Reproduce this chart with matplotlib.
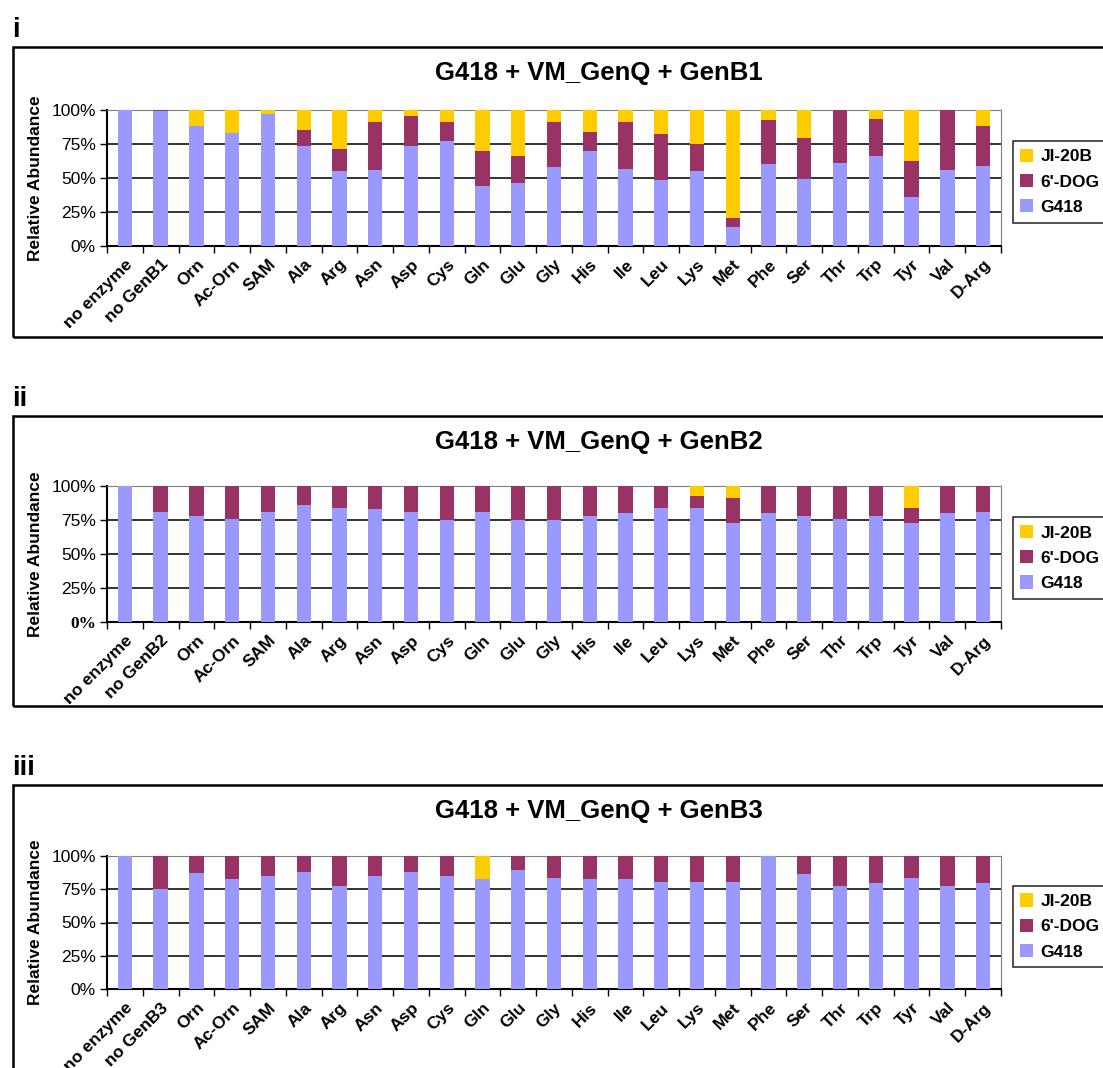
import matplotlib.pyplot as plt
from matplotlib.patches import Rectangle
import numpy as np

plt.rcParams['font.family'] = ['Liberation Sans', 'DejaVu Sans']

amino = ['Orn', 'Ac-Orn', 'SAM', 'Ala', 'Arg', 'Asn', 'Asp', 'Cys', 'Gln', 'Glu',
         'Gly', 'His', 'Ile', 'Leu', 'Lys', 'Met', 'Phe', 'Ser', 'Thr', 'Trp',
         'Tyr', 'Val', 'D-Arg']

# relative abundance (%), stacked G418 / 6'-DOG / JI-20B
g418_b1 = [100, 99, 88.4, 83.2, 97, 73.6, 54.8, 55.8, 73.6, 76.8, 44, 46.2, 58,
           69.6, 56.8, 48.6, 54.8, 13.6, 60, 49.4, 61.2, 66.2, 35.8, 55.8, 58.8]
dog_b1 = [0, 1, 0, 0, 0, 11.6, 16.6, 35.6, 22.2, 14.6, 25.4, 20, 33.4,
          14.4, 34.6, 33.6, 19.8, 6.6, 32.6, 29.6, 38.8, 27.4, 26.4, 44.2, 29.6]

g418_b2 = [100, 80.9, 77.7, 75.5, 80.9, 86, 84, 82.8, 80.9, 74.6, 80.9, 74.6, 74.6,
           77.7, 79.9, 84, 84, 72.6, 79.9, 77.7, 75.5, 77.7, 72.6, 79.9, 80.9]
dog_b2 = [0, 19.1, 22.3, 24.5, 19.1, 14, 16, 17.2, 19.1, 25.4, 19.1, 25.4, 25.4,
          22.3, 20.1, 16, 8.4, 18.7, 20.1, 22.3, 24.5, 22.3, 11.4, 20.1, 19.1]

g418_b3 = [100, 74.9, 87.1, 82.5, 84.8, 88.1, 77.2, 84.8, 88.1, 84.8, 82.5, 89.1, 83.8,
           82.5, 82.5, 80.5, 80.5, 80.5, 100, 86.1, 77.2, 79.5, 83.8, 77.2, 79.5]
dog_b3 = [0, 25.1, 12.9, 17.5, 15.2, 11.9, 22.8, 15.2, 11.9, 15.2, 0, 10.9, 16.2,
          17.5, 17.5, 19.5, 19.5, 19.5, 0, 13.9, 22.8, 20.5, 16.2, 22.8, 20.5]

panels = [('i', 'GenB1', g418_b1, dog_b1),
          ('ii', 'GenB2', g418_b2, dog_b2),
          ('iii', 'GenB3', g418_b3, dog_b3)]

c_g418 = '#9999ff'
c_dog = '#993366'
c_ji = '#ffcc00'

W, H = 1103, 1068
fig = plt.figure(figsize=(W / 100, H / 100), dpi=100)

# pixel layout of each panel: (box top, axes top, axes bottom)
rows = [(47, 110, 245.5), (416, 486, 621.7), (785, 856, 989)]
ax_left, ax_right = 107, 1001

for (tag, enz, g418, dog), (box_top, a_top, a_bot) in zip(panels, rows):
    g418 = np.array(g418)
    dog = np.array(dog)
    ji = 100 - g418 - dog
    cats = ['no enzyme', 'no ' + enz] + amino
    x = np.arange(len(cats))

    # panel letter and frame
    fig.text(12 / W, 1 - (box_top - 17) / H, tag, fontsize=20, fontweight='bold',
             ha='left', va='center')
    fig.patches.append(Rectangle((13 / W, 1 - (box_top + 290) / H), 1.2, 290 / H,
                                 transform=fig.transFigure, fill=False,
                                 edgecolor='black', linewidth=1.8))
    fig.text(599 / W, 1 - (box_top + 26) / H, 'G418 + VM_GenQ + ' + enz,
             fontsize=18.5, fontweight='bold', ha='center', va='center')

    ax = fig.add_axes([ax_left / W, 1 - a_bot / H, (ax_right - ax_left) / W,
                       (a_bot - a_top) / H])
    b1 = ax.bar(x, g418, width=0.4, color=c_g418, zorder=3)
    b2 = ax.bar(x, dog, width=0.4, bottom=g418, color=c_dog, zorder=3)
    b3 = ax.bar(x, ji, width=0.4, bottom=g418 + dog, color=c_ji, zorder=3)

    ax.set_xlim(-0.5, len(cats) - 0.5)
    ax.set_ylim(0, 100)
    ax.set_yticks([0, 25, 50, 75, 100])
    ax.set_yticklabels(['0%', '25%', '50%', '75%', '100%'], fontsize=12.5)
    if tag == 'ii':
        ax.get_yticklabels()[0].set_fontfamily('Liberation Serif')
        ax.get_yticklabels()[0].set_fontweight('bold')
    ax.yaxis.grid(True, color='#333333', linewidth=1.4, zorder=1)
    ax.set_xticks(x)
    ax.set_xticklabels(cats, rotation=45, ha='right', rotation_mode='anchor',
                       fontsize=12.5, fontweight='bold')
    ax.set_xticks(np.arange(len(cats) + 1) - 0.5, minor=True)
    ax.tick_params(axis='x', which='major', length=0, pad=8)
    ax.tick_params(axis='x', which='minor', length=5, width=1, direction='out')
    ax.tick_params(axis='y', length=5, width=1, pad=3)
    for side in ['top', 'right']:
        ax.spines[side].set_color('#808080')
    for side in ['left', 'bottom']:
        ax.spines[side].set_linewidth(1.5)
    ax.set_ylabel('Relative Abundance', fontsize=12.5, fontweight='bold', labelpad=6)

    leg = ax.legend([b3, b2, b1], ['JI-20B', "6'-DOG", 'G418'], loc='center left',
                    bbox_to_anchor=(1.013, 0.47), frameon=True, fancybox=False,
                    edgecolor='black', handlelength=0.7, handleheight=0.8,
                    handletextpad=0.45, borderpad=0.45, labelspacing=0.55,
                    borderaxespad=0, prop={'weight': 'bold', 'size': 12.5})
    leg.get_frame().set_linewidth(1.2)

fig.savefig('out.png', dpi=100)
